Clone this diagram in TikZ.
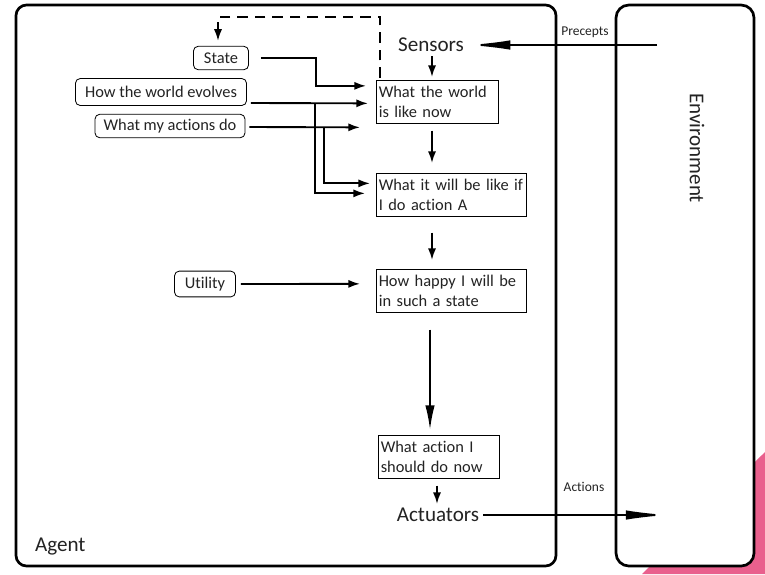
\documentclass[tikz,border=0pt]{standalone}
\usepackage{fontspec}
\setmainfont{Carlito}[Ligatures={NoCommon}]
\usetikzlibrary{arrows.meta,calc}
\definecolor{slidepink}{RGB}{233,96,141}
\definecolor{ink}{RGB}{35,35,35}

\begin{document}
\begin{tikzpicture}[x=0.03cm,y=-0.03cm,
  box/.style={draw,line width=0.7pt,anchor=north west,align=left,inner xsep=2pt,
    minimum height=36.6pt,font=\fontsize{14}{17}\selectfont,text=ink},
  tag/.style={draw,line width=0.7pt,rounded corners=4pt,inner sep=0pt,
    font=\fontsize{14}{17}\selectfont,text=ink},
  big/.style={font=\fontsize{18}{21}\selectfont,text=ink},
  small/.style={font=\fontsize{11.5}{13}\selectfont,text=ink},
  arr/.style={line width=1.6pt,-{Latex[length=10pt,width=7pt]}},
  downarr/.style={line width=1.6pt,-{Latex[length=21pt,width=8pt]}},
  longarr/.style={line width=1.6pt,-{Latex[length=36pt,width=8pt]}},
  feedback/.style={arr,dash pattern=on 9pt off 6pt}]
\useasboundingbox (0,0) rectangle (765,574);
%  Corner of the slide and the two big boxes
\fill[slidepink] (765,452) -- (765,574) -- (642,574) -- cycle;
\draw[line width=2.3pt,rounded corners=9pt,fill=white] (16,5) rectangle (556,566);
\draw[line width=2.3pt,rounded corners=11pt,fill=white] (616,5) rectangle (754,566);
\node[big,anchor=west] (agent) at (31,547) {Agent};
\node[big,rotate=-90] (env) at (697,148) {Environment};
%  Sensors, actuators and the labels between the boxes
\node[big] (sensors) at (431,45) {Sensors};
\node[big] (actuators) at (438,515) {Actuators};
\node[small] (precepts) at (585,32) {Precepts};
\node[small] (actions) at (584,487) {Actions};
%  The four steps
\node[box,text width=100pt] (now) at (376,80) {What the world\\is like now};
\node[box,text width=124pt] (future) at (376,173) {What it will be like if\\I do action A};
\node[box,text width=124pt] (happy) at (376,269) {How happy I will be\\in such a state};
\node[box,text width=99pt] (act) at (378,435) {What action I\\should do now};
%  What the agent knows
\node[tag,minimum width=47pt,minimum height=20pt] (state) at (221,58) {State};
\node[tag,minimum width=146pt,minimum height=23pt] (evolves) at (161,92) {How the world evolves};
\node[tag,minimum width=128pt,minimum height=20pt] (effects) at (170,126) {What my actions do};
\node[tag,minimum width=52pt,minimum height=22pt] (utility) at (205,284) {Utility};
% precepts in, actions out
\coordinate (envin) at (657,45);
\coordinate (envout) at (668,515);
\draw[longarr] (envin) -- (sensors);
\draw[longarr] (actuators) -- (envout);
% down the middle
\coordinate (mid) at (432,0);
\draw[arr] (sensors.south -| mid) -- ($(now.north -| mid)+(0,-3)$);
\draw[arr] ($(now.south -| mid)+(0,7)$) -- ($(future.north -| mid)+(0,-10)$);
\draw[arr] ($(future.south -| mid)+(0,16)$) -- ($(happy.north -| mid)+(0,-9)$);
\draw[downarr] ($(happy.south -| mid)+(-2,17)$) -- ($(act.north -| mid)+(-2,-5)$);
\draw[arr] ($(act.south -| mid)+(5,7)$) -- ($(actuators.north -| mid)+(5,0)$);
% state, model and utility
\draw[feedback] ($(now.north west)+(4,-2)$) -- ++(0,-61) -| ($(state.north)+(-3,-5)$);
\draw[arr] ($(state.east)+(12,0)$) -| ($(now.west)+(-60,-16)$) -- ($(now.west)+(-10,-16)$);
\draw[arr] ($(evolves.east)+(4,11)$) -- ($(now.west)+(-8,1.5)$);
\draw[arr] ($(now.west)+(-61,1.5)$) |- ($(future.west)+(-11,-1.5)$);
\draw[arr] ($(effects.east)+(4,1)$) -- ($(now.west)+(-16,25.5)$);
\draw[arr] ($(now.west)+(-52,25.5)$) |- ($(future.west)+(-6,-11.5)$);
\draw[arr] ($(utility.east)+(5,0)$) -- ($(happy.west)+(-16,-7)$);
\end{tikzpicture}
\end{document}
